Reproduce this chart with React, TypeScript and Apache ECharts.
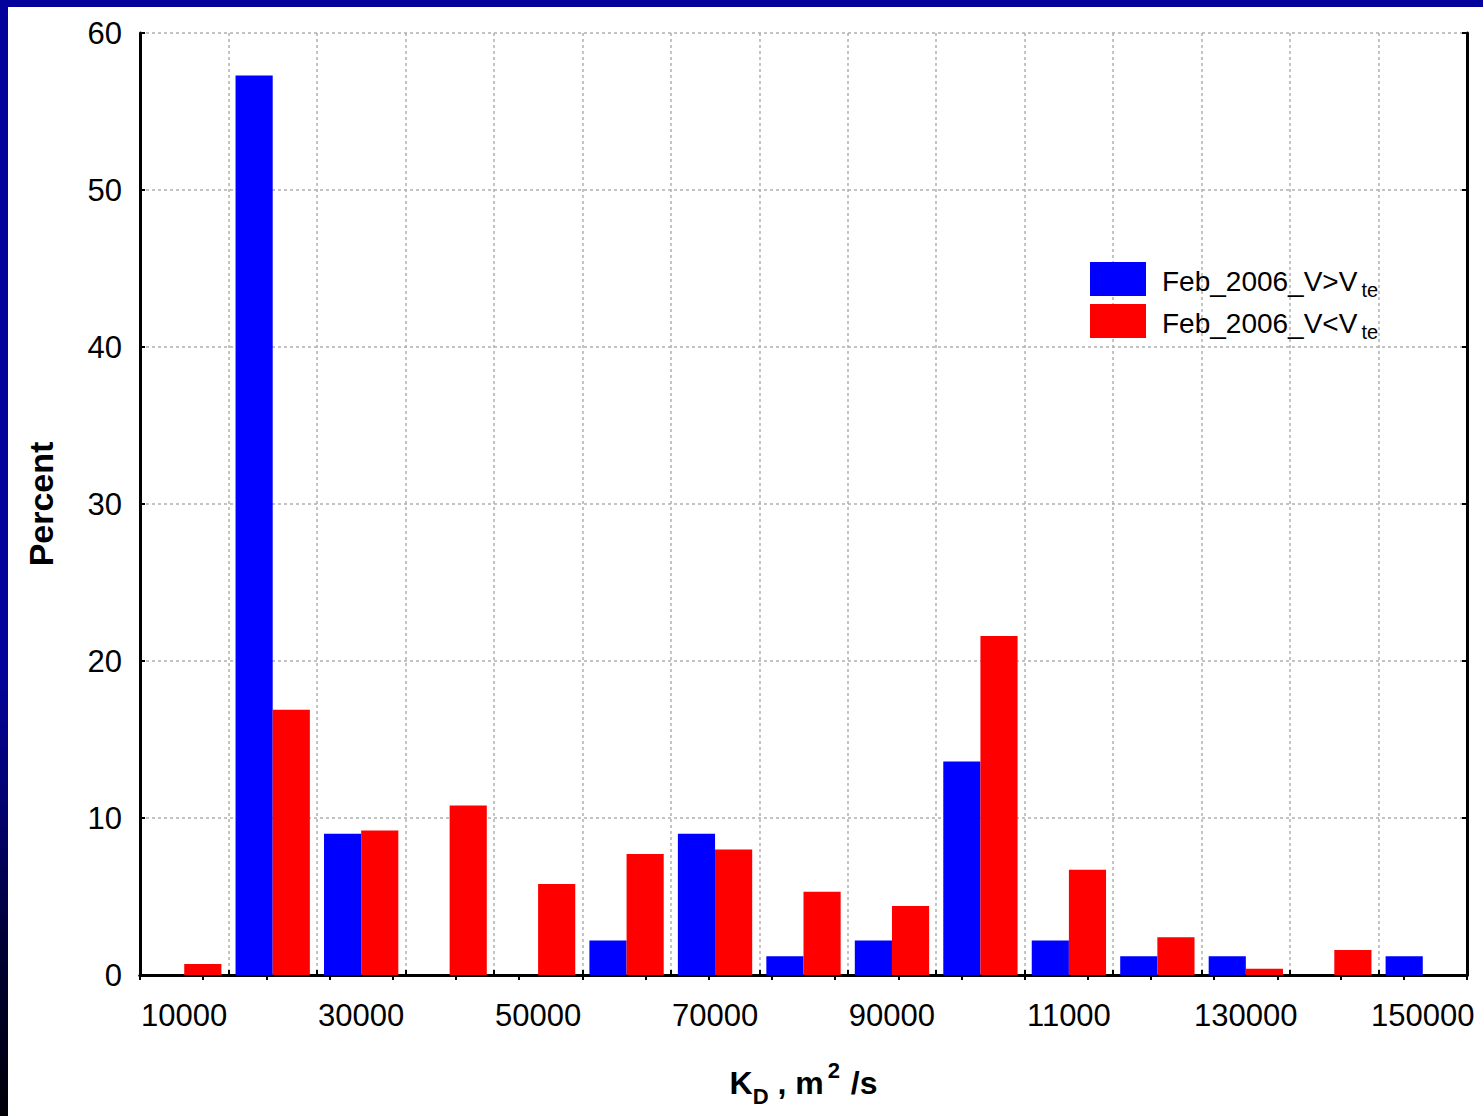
import React, { useEffect, useRef } from 'react';
import * as echarts from 'echarts';

const categories = ['10000', '20000', '30000', '40000', '50000', '60000', '70000', '80000', '90000', '100000', '110000', '120000', '130000', '140000', '150000'];
const xTickLabels = ['10000', '', '30000', '', '50000', '', '70000', '', '90000', '', '11000', '', '130000', '', '150000'];
const blueName = 'Feb_2006_V>Vte';
const redName = 'Feb_2006_V<Vte';
const blueValues = [0, 57.3, 9.0, 0, 0, 2.2, 9.0, 1.2, 2.2, 13.6, 2.2, 1.2, 1.2, 0, 1.2];
const redValues = [0.7, 16.9, 9.2, 10.8, 5.8, 7.7, 8.0, 5.3, 4.4, 21.6, 6.7, 2.4, 0.4, 1.6, 0];
const yMin = 0;
const yMax = 60;
const yInterval = 10;

const FONT = "'Liberation Sans', Arial, sans-serif";

export default function App() {
  const ref = useRef<HTMLDivElement>(null);
  useEffect(() => {
    document.body.style.margin = '0';
    const chart = echarts.init(ref.current as HTMLDivElement, null, { renderer: 'svg' });
    const gridLine = { color: '#b0b0b0', width: 1.5, type: [3, 3] as any };
    chart.setOption({
      animation: false,
      backgroundColor: '#ffffff',
      textStyle: { fontFamily: FONT },
      graphic: [
        { type: 'rect', shape: { x: 0, y: 0, width: 1483, height: 7 }, style: { fill: '#03039b' }, z: 100 },
        {
          type: 'rect',
          shape: { x: 0, y: 0, width: 8, height: 1116 },
          style: {
            fill: new echarts.graphic.LinearGradient(0, 0, 0, 1, [
              { offset: 0, color: '#03039b' },
              { offset: 0.6, color: '#03039b' },
              { offset: 0.72, color: '#020270' },
              { offset: 0.84, color: '#000038' },
              { offset: 1, color: '#000008' },
            ]),
          },
          z: 100,
        },
      ],
      grid: { left: 140, top: 33, right: 16, bottom: 141 },
      legend: {
        orient: 'vertical',
        left: 1085,
        top: 257,
        itemWidth: 56,
        itemHeight: 34,
        itemGap: 4,
        icon: 'rect',
        data: [blueName, redName],
        formatter: (name: string) => '{n|' + name.replace(/te$/, '') + '}{s|te}',
        textStyle: {
          color: '#000',
          fontFamily: FONT,
          fontSize: 28,
          padding: [4, 0, 0, 11],
          rich: {
            n: { fontSize: 28, fontFamily: FONT, color: '#000', lineHeight: 38 },
            s: { fontSize: 20, fontFamily: FONT, color: '#000', verticalAlign: 'bottom', padding: [0, 0, 0, 4] },
          },
        },
      },
      xAxis: [
        {
          type: 'category',
          data: categories,
          boundaryGap: true,
          position: 'bottom',
          axisLine: { show: true, lineStyle: { color: '#000', width: 3 } },
          axisTick: { show: true, inside: true, length: 5, interval: 0, lineStyle: { color: '#000', width: 2 } },
          axisLabel: {
            interval: 0,
            margin: 25,
            fontSize: 31,
            fontFamily: FONT,
            color: '#000',
            formatter: (_v: string, i: number) => xTickLabels[i],
          },
          splitLine: { show: true, interval: 0, lineStyle: gridLine },
          name: '{b|K}{bs|D}{b| , m}{bp|2}{b| /s}',
          nameLocation: 'middle',
          nameGap: 84,
          nameTextStyle: {
            rich: {
              b: { fontSize: 32, fontWeight: 'bold', fontFamily: FONT, color: '#000', lineHeight: 48 },
              bs: { fontSize: 22, fontWeight: 'bold', fontFamily: FONT, color: '#000', verticalAlign: 'bottom' },
              bp: { fontSize: 22, fontWeight: 'bold', fontFamily: FONT, color: '#000', verticalAlign: 'top', lineHeight: 36, padding: [0, 2, 0, 4] },
            },
          },
        },
        {
          type: 'value',
          position: 'top',
          min: 0,
          max: 21,
          interval: 1,
          axisLine: { show: true, lineStyle: { color: '#000', width: 3 } },
          axisTick: { show: true, inside: true, length: 5, lineStyle: { color: '#000', width: 2 } },
          axisLabel: { show: false },
          splitLine: { show: false },
        },
      ],
      yAxis: [
        {
          type: 'value',
          min: yMin,
          max: yMax,
          interval: yInterval,
          position: 'left',
          axisLine: { show: true, lineStyle: { color: '#000', width: 3 } },
          axisTick: { show: true, inside: true, length: 5, lineStyle: { color: '#000', width: 2 } },
          axisLabel: { margin: 18, fontSize: 31, fontFamily: FONT, color: '#000', padding: [4, 0, 0, 0] },
          splitLine: { show: true, lineStyle: gridLine },
          name: 'Percent',
          nameLocation: 'middle',
          nameGap: 82,
          nameTextStyle: { fontSize: 34, fontWeight: 'bold', fontFamily: FONT, color: '#000' },
        },
        {
          type: 'value',
          min: yMin,
          max: yMax,
          interval: yInterval,
          position: 'right',
          axisLine: { show: true, lineStyle: { color: '#000', width: 3 } },
          axisTick: { show: true, inside: true, length: 5, lineStyle: { color: '#000', width: 2 } },
          axisLabel: { show: false },
          splitLine: { show: false },
        },
      ],
      series: [
        {
          name: blueName,
          type: 'bar',
          xAxisIndex: 0,
          yAxisIndex: 0,
          data: blueValues,
          barGap: '0%',
          barCategoryGap: '16%',
          itemStyle: { color: '#0000ff' },
          z: 3,
        },
        {
          name: redName,
          type: 'bar',
          xAxisIndex: 0,
          yAxisIndex: 0,
          data: redValues,
          barGap: '0%',
          barCategoryGap: '16%',
          itemStyle: { color: '#ff0000' },
          z: 3,
        },
      ],
    });
    return () => chart.dispose();
  }, []);
  return <div ref={ref} style={{ width: 1483, height: 1116 }} />;
}
